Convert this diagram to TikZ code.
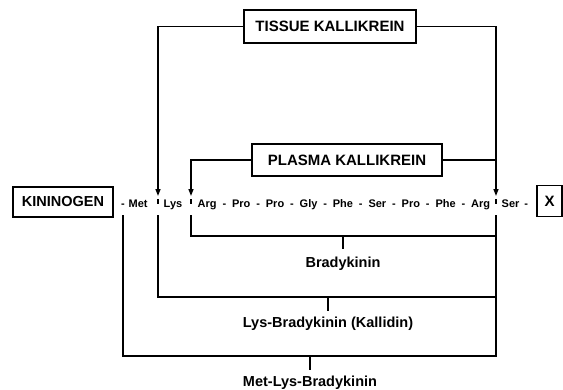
\documentclass[tikz,border=0pt]{standalone}
\usepackage{fontspec}
\setmainfont{Liberation Sans}
\usetikzlibrary{arrows.meta}
\begin{document}
\begin{tikzpicture}[x=1pt,y=-1pt,line width=1.4pt,
 enzbox/.style={draw,line width=1.8pt,inner sep=0pt,font=\fontsize{15}{17}\selectfont\bfseries},
 resid/.style={inner sep=0pt,anchor=base west,font=\fontsize{11}{13}\selectfont\bfseries},
 prodlab/.style={inner sep=0pt,anchor=base,font=\fontsize{14.5}{17}\selectfont\bfseries},
 cutarrow/.style={-{Triangle[length=7pt,width=5pt]}}]
\useasboundingbox (0,0) rectangle (563,389);
% enzymes and ends
\node[enzbox,minimum width=172pt,minimum height=33pt] (tk) at (330,26.5) {TISSUE KALLIKREIN};
\node[enzbox,minimum width=190pt,minimum height=32pt] (pk) at (347,160) {PLASMA KALLIKREIN};
\node[enzbox,minimum width=100pt,minimum height=30pt,font=\fontsize{14.5}{17}\selectfont\bfseries] (kin) at (63,202) {KININOGEN};
\node[enzbox,minimum width=25pt,minimum height=31pt] (xend) at (549.5,201) {X};
% residues
\node[resid,anchor=base] (dmet) at (123,207) {-};
\node[resid] (met) at (128,207) {Met};
\node[resid] (lys) at (163,207) {Lys};
\node[resid] (seq) at (197,207) {\spaceskip=5.9pt Arg - Pro - Pro - Gly - Phe - Ser - Pro - Phe - Arg};
\node[resid] (ser) at (501,207) {\spaceskip=5pt Ser -};
% cleavage points
\coordinate (cML) at (158,196);
\coordinate (cLA) at (191,196);
\coordinate (cAS) at (496,196);
\coordinate (tML) at (158,199); \coordinate (bML) at (158,204);
\coordinate (tLA) at (191,199); \coordinate (bLA) at (191,204);
\coordinate (tAS) at (496,199); \coordinate (bAS) at (496,204);
\draw[cutarrow] (tk.west) -| (cML);
\draw[cutarrow] (tk.east) -| (cAS);
\draw[cutarrow] (pk.west) -| (cLA);
\draw (pk.east) -- (pk.east -| cAS);
\draw (tML) -- (bML);
\draw (tLA) -- (bLA);
\draw (tAS) -- (bAS);
% product brackets
\coordinate (sMet) at (123,215);
\coordinate (sLys) at (158,215);
\coordinate (sArg) at (191,215);
\coordinate (sSer) at (496,215);
\coordinate (brB) at (496,236);
\coordinate (brL) at (496,297);
\coordinate (brM) at (496,356);
\draw (sArg) |- (brB);
\draw (sLys) |- (brL);
\draw (sMet) |- (brM) -- (sSer);
\node[prodlab] (brady) at (343,267) {Bradykinin};
\node[prodlab] (kallidin) at (328,327) {Lys-Bradykinin (Kallidin)};
\node[prodlab] (metlys) at (310,386) {Met-Lys-Bradykinin};
\coordinate (tB) at (343,236); \coordinate (tL) at (328,297); \coordinate (tM) at (310,356);
\draw (tB) -- (tB |- 0,249);
\draw (tL) -- (tL |- 0,311);
\draw (tM) -- (tM |- 0,370);
\end{tikzpicture}
\end{document}
